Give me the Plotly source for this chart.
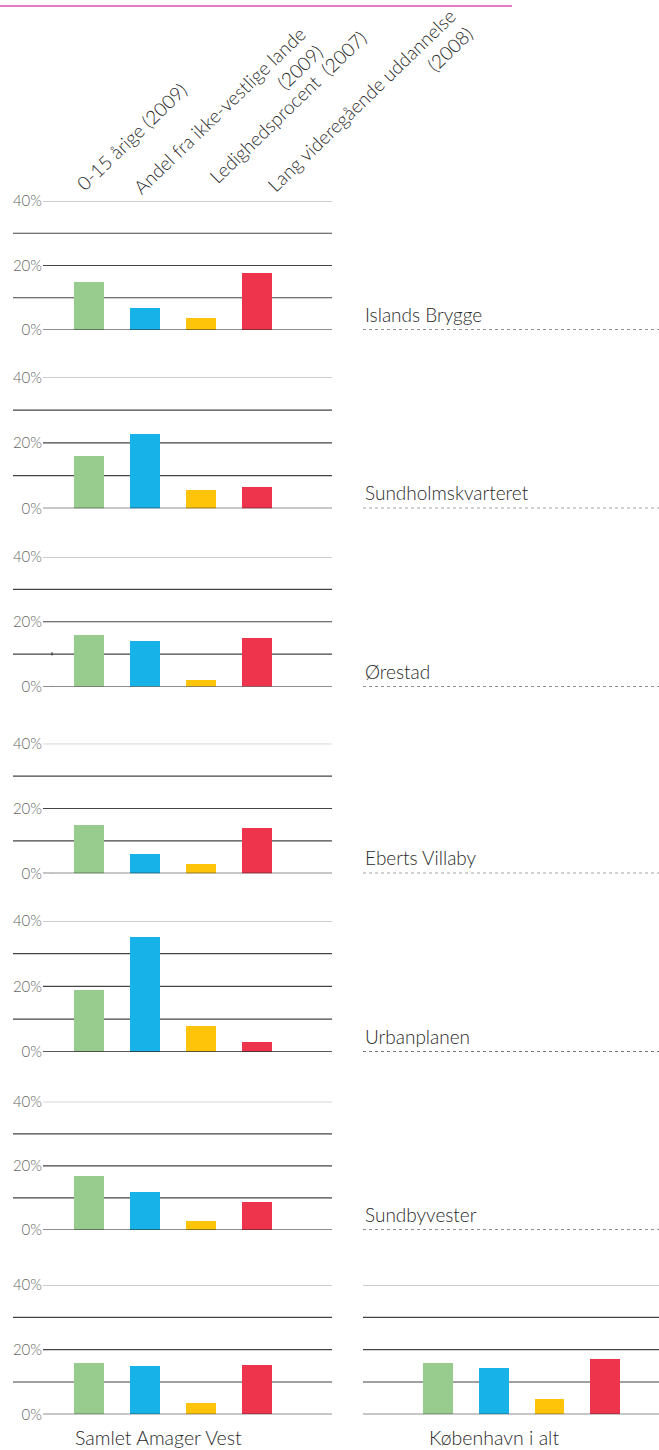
import plotly.graph_objects as go

# ---------------- data ----------------
categories = ["0-15 årige (2009)", "Andel fra ikke-vestlige lande (2009)",
              "Ledighedsprocent (2007)", "Lang videregående uddannelse (2008)"]
header_labels = ["0-15 årige (2009)", "Andel fra ikke-vestlige lande<br>(2009)",
                 "Ledighedsprocent  (2007)", "Lang videregående uddannelse<br>(2008)"]
areas = ["Islands Brygge", "Sundholmskvarteret", "Ørestad", "Eberts Villaby",
         "Urbanplanen", "Sundbyvester", "Samlet Amager Vest"]
aarige_0_15 = [14.9, 16.0, 15.9, 14.9, 19.0, 16.8, 15.8]
ikke_vestlige = [6.9, 23.0, 14.1, 6.0, 35.0, 11.8, 14.9]
ledighed = [3.8, 5.9, 2.0, 2.9, 8.0, 2.8, 3.5]
lang_udd = [17.6, 6.8, 15.0, 14.0, 3.0, 8.7, 15.2]
kbh_label = "København i alt"
kbh_values = [15.8, 14.3, 4.7, 17.0]
y_ticks = [0, 20, 40]
y_ticktext = ["0%", "20%", "40%"]
grid_levels = [0, 10, 20, 30, 40]

# ---------------- styling / layout ----------------
W, H = 659, 1450
FONT = "Lato"
LIGHT = 300
TXT = "#2a2a2a"
colors = ["#98cc8e", "#17b2e7", "#fec40a", "#ee334d"]


def px_x(p):
    return p / W


def px_y(p):
    return 1 - p / H


panels_px = [(201, 330), (377.5, 508.3), (557, 686.5), (743.7, 873.3),
             (921, 1051.7), (1101.7, 1230), (1285, 1414.3)]
left_dom = [px_x(43), px_x(332)]
right_dom = [px_x(363), 1.0]
xr_left = [-0.821, 4.339]
xr_right = [-1.347, 3.967]
bar_w = 0.536

fig = go.Figure()
shapes = []
annotations = []
layout_axes = {}

series = [aarige_0_15, ikke_vestlige, ledighed, lang_udd]


def add_panel(idx, values, xdom, xrange_, ydom_px, show_ticks, left_grid):
    xa = "x" if idx == 1 else f"x{idx}"
    ya = "y" if idx == 1 else f"y{idx}"
    fig.add_trace(go.Bar(x=categories, y=values, marker=dict(color=colors, line=dict(width=0)),
                         width=bar_w, xaxis=xa, yaxis=ya, showlegend=False,
                         hovertemplate="%{x}: %{y:.1f}%<extra></extra>"))
    top, bot = ydom_px
    layout_axes[f"xaxis{'' if idx == 1 else idx}"] = dict(
        domain=xdom, range=xrange_, showticklabels=False, showgrid=False,
        zeroline=False, showline=False, ticks="", anchor=ya, fixedrange=True,
        automargin=False)
    layout_axes[f"yaxis{'' if idx == 1 else idx}"] = dict(
        domain=[px_y(bot), px_y(top)], range=[0, 40], tickvals=y_ticks,
        ticktext=y_ticktext, showticklabels=show_ticks, showgrid=False,
        zeroline=False, showline=False, ticks="", anchor=xa, fixedrange=True,
        ticklabelstandoff=0, automargin=False,
        tickfont=dict(family=FONT, size=15, color="#666666", weight=LIGHT))
    for g in grid_levels:
        if left_grid:
            x0 = 43 if g in (0, 20, 40) else 13
            x1 = 332
        else:
            x0, x1 = 363, W
        col = "#9a9a9a" if g == 40 else ("#222222" if g == 0 else "#444444")
        shapes.append(dict(type="line", xref="paper", yref=ya,
                           x0=px_x(x0), x1=px_x(x1), y0=g, y1=g,
                           line=dict(color=col, width=1.2 if g != 40 else 1),
                           layer="above" if g == 0 else "below"))
    return ya


for i in range(7):
    vals = [s[i] for s in series]
    ya = add_panel(i + 1, vals, left_dom, xr_left, panels_px[i], True, True)
    if i < 6:
        shapes.append(dict(type="line", xref="paper", yref=ya,
                           x0=px_x(363), x1=1.0, y0=0, y1=0,
                           line=dict(color="#222222", width=1, dash="3px,3px")))
        annotations.append(dict(text=areas[i], xref="paper", yref=ya,
                                x=px_x(363), y=0, xanchor="left", yanchor="bottom",
                                yshift=2, showarrow=False,
                                font=dict(family=FONT, size=19, color=TXT, weight=LIGHT)))
    # small stray tick marks seen in the original artwork (panels 3 and 4)
    if i in (2, 3):
        shapes.append(dict(type="line", xref="paper", yref=ya,
                           x0=px_x(52), x1=px_x(52), y0=0, y1=-1.2,
                           line=dict(color="#222222", width=1)))
    if i == 2:
        shapes.append(dict(type="line", xref="paper", yref=ya,
                           x0=px_x(52), x1=px_x(52), y0=10.6, y1=9.6,
                           line=dict(color="#222222", width=1)))

# København i alt panel
add_panel(8, kbh_values, right_dom, xr_right, panels_px[6], False, False)

# bottom labels
annotations.append(dict(text=areas[6], xref="paper", yref="paper",
                        x=px_x(158), y=px_y(1437), xanchor="center", yanchor="middle",
                        showarrow=False, font=dict(family=FONT, size=19.5, color=TXT, weight=LIGHT)))
annotations.append(dict(text=kbh_label, xref="paper", yref="paper",
                        x=px_x(494), y=px_y(1437), xanchor="center", yanchor="middle",
                        showarrow=False, font=dict(family=FONT, size=19.5, color=TXT, weight=LIGHT)))

# header labels (rotated)
header_pos = [(69, 198), (126, 219), (202, 190), (260, 217)]
for lbl, (hx, hy) in zip(header_labels, header_pos):
    annotations.append(dict(text=lbl, xref="paper", yref="paper",
                            x=px_x(hx), y=px_y(hy), xanchor="left", yanchor="bottom",
                            textangle=-44, align="right", showarrow=False,
                            font=dict(family=FONT, size=19, color=TXT, weight=LIGHT)))

# pink rule at top
shapes.append(dict(type="line", xref="paper", yref="paper",
                   x0=0, x1=px_x(512), y0=px_y(6), y1=px_y(6),
                   line=dict(color="#e27bc3", width=2)))

fig.update_layout(width=W, height=H,
                  margin=dict(l=0, r=0, t=0, b=0, pad=0, autoexpand=False),
                  paper_bgcolor="white", plot_bgcolor="rgba(0,0,0,0)",
                  shapes=shapes, annotations=annotations, bargap=0,
                  font=dict(family=FONT), **layout_axes)

post = ("document.documentElement.style.margin='0';"
        "document.body.style.margin='0';document.body.style.padding='0';"
        "var d=document.getElementById('{plot_id}');"
        "d.style.position='fixed';d.style.top='0px';d.style.left='0px';")
fig.write_html("out.html", config={"displayModeBar": False}, post_script=post)
